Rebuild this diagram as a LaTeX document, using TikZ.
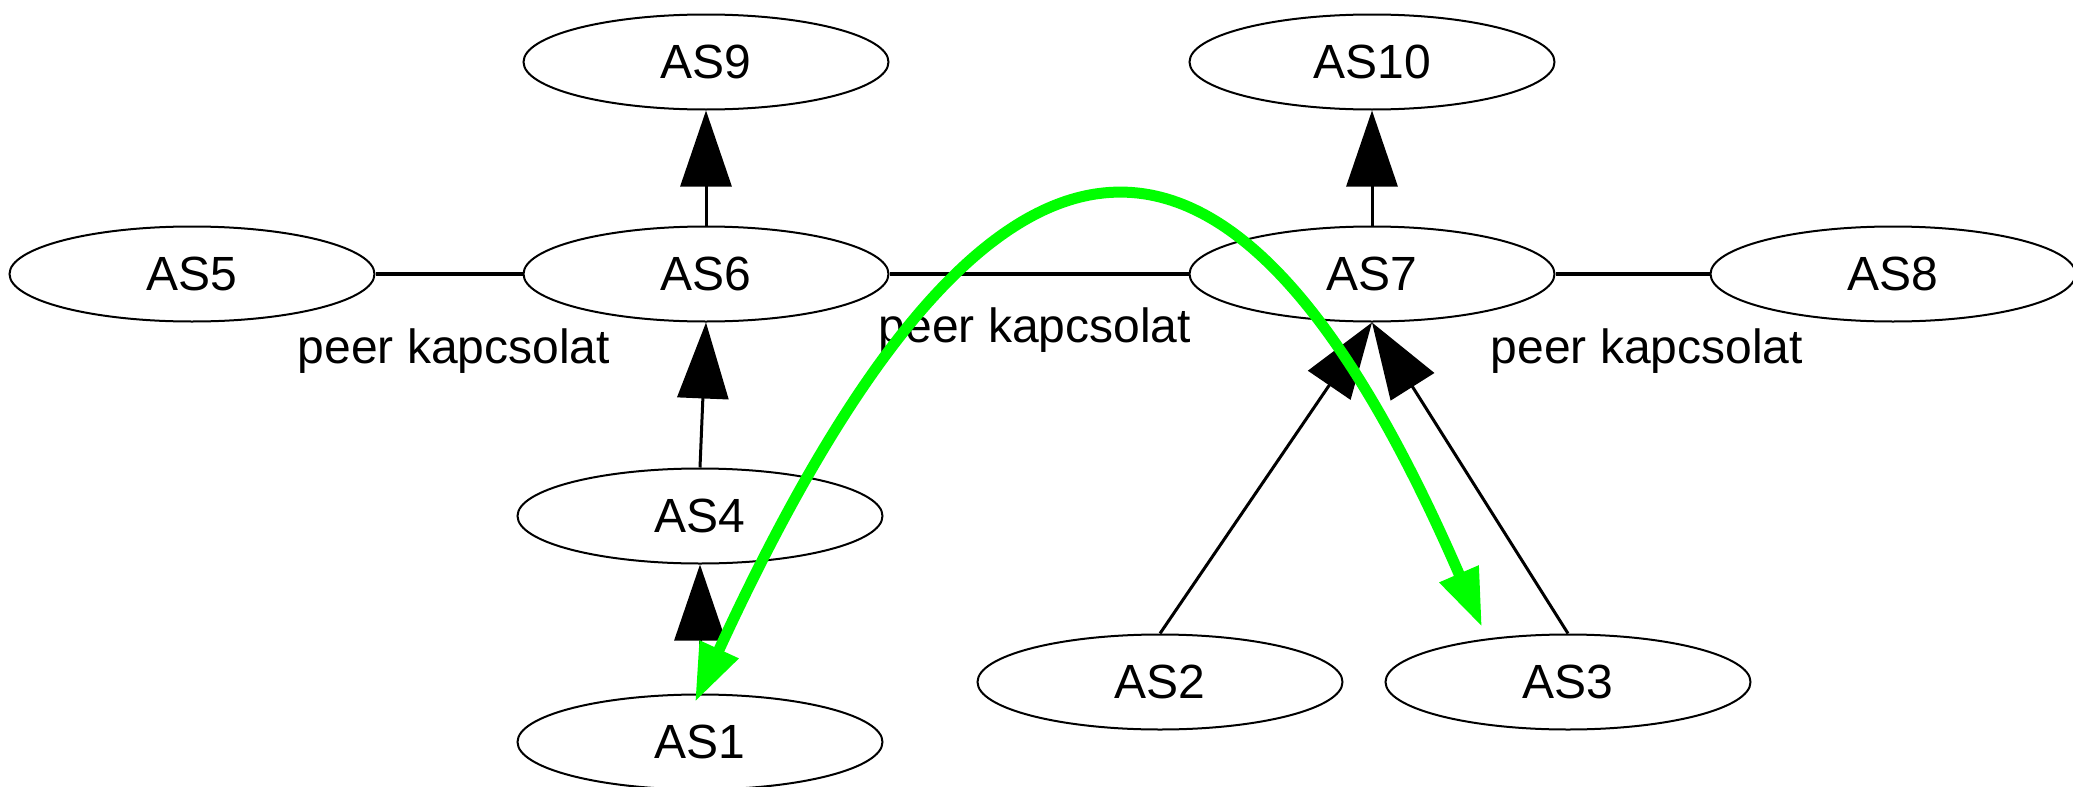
\documentclass[tikz,border=0pt]{standalone}
\usepackage{fontspec}
\setmainfont{Liberation Sans}
\usetikzlibrary{arrows.meta,shapes.geometric}
\definecolor{pathgreen}{RGB}{0,255,0}
\begin{document}
\begin{tikzpicture}[x=0.5pt,y=-0.5pt,
  asnode/.style={ellipse,draw,line width=1pt,minimum width=182.5pt,minimum height=47.5pt,inner sep=0pt,font=\fontsize{24}{28}\selectfont},
  peerline/.style={line width=2.4pt},
  provider/.style={line width=1.5pt,-{Triangle[length=38pt,width=25.5pt]}},
  greenpath/.style={draw=pathgreen,line width=5.5pt,{Triangle[length=29pt,width=20pt]}-{Triangle[length=29pt,width=20pt]}},
  lbl/.style={anchor=base,font=\fontsize{24}{28}\selectfont}]
\useasboundingbox (0,0) rectangle (2073,787);
\node[asnode] (AS9) at (706,62) {AS9};
\node[asnode] (AS10) at (1372,62) {AS10};
\node[asnode] (AS5) at (192,274) {AS5};
\node[asnode] (AS6) at (706,274) {AS6};
\node[asnode] (AS7) at (1372,274) {AS7};
\node[asnode] (AS8) at (1893,274) {AS8};
\node[asnode] (AS4) at (700,516) {AS4};
\node[asnode] (AS1) at (700,742) {AS1};
\node[asnode] (AS2) at (1160,682) {AS2};
\node[asnode] (AS3) at (1568,682) {AS3};
\draw[peerline] (AS5) -- (AS6);
\draw[peerline] (AS6) -- (AS7);
\draw[peerline] (AS7) -- (AS8);
\draw[provider] (AS6.north) -- (AS9.south);
\draw[provider] (AS7.north) -- (AS10.south);
\draw[provider] (AS4.north) -- (AS6.south);
\draw[provider] (AS1.north) -- (AS4.south);
\draw[provider] (AS2.north) -- (AS7.south);
\draw[provider] (AS3.north) -- (AS7.south);
\node[lbl] (L1) at (454,363) {peer kapcsolat};
\node[lbl] (L2) at (1035,342) {peer kapcsolat};
\node[lbl] (L3) at (1647,363) {peer kapcsolat};
\coordinate (g1) at (695,702);
\coordinate (g2) at (1482,627);
\draw[greenpath] (g1) .. controls (1028,-22) and (1265,126) .. (g2);
\end{tikzpicture}
\end{document}
